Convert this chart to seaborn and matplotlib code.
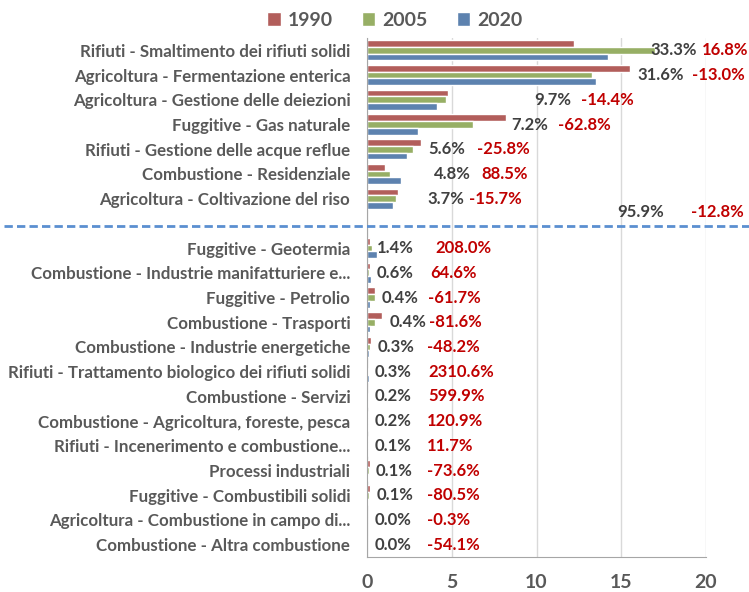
import numpy as np
import pandas as pd
import matplotlib
matplotlib.use("Agg")
import matplotlib.pyplot as plt
import matplotlib.transforms as mtransforms
from matplotlib.lines import Line2D
import seaborn as sns

# categories, top to bottom ("" is the spacer row holding the total)
categories = [
    "Rifiuti - Smaltimento dei rifiuti solidi",
    "Agricoltura - Fermentazione enterica",
    "Agricoltura - Gestione delle deiezioni",
    "Fuggitive - Gas naturale",
    "Rifiuti - Gestione delle acque reflue",
    "Combustione - Residenziale",
    "Agricoltura - Coltivazione del riso",
    "",
    "Fuggitive - Geotermia",
    "Combustione - Industrie manifatturiere e...",
    "Fuggitive - Petrolio",
    "Combustione - Trasporti",
    "Combustione - Industrie energetiche",
    "Rifiuti - Trattamento biologico dei rifiuti solidi",
    "Combustione - Servizi",
    "Combustione - Agricoltura, foreste, pesca",
    "Rifiuti - Incenerimento e combustione...",
    "Processi industriali",
    "Fuggitive - Combustibili solidi",
    "Agricoltura - Combustione in campo di...",
    "Combustione - Altra combustione",
]
v1990 = [12.2, 15.5, 4.8, 8.2, 3.17, 1.07, 1.81, 0,
         0.2, 0.16, 0.45, 0.9, 0.25, 0.005, 0.012, 0.04, 0.036, 0.15, 0.2, 0.01, 0.02]
v2005 = [17.0, 13.26, 4.67, 6.26, 2.7, 1.36, 1.69, 0,
         0.3, 0.1, 0.45, 0.5, 0.15, 0.06, 0.05, 0.06, 0.04, 0.1, 0.1, 0.01, 0.01]
v2020 = [14.2, 13.5, 4.11, 3.03, 2.35, 2.02, 1.53, 0,
         0.6, 0.26, 0.17, 0.17, 0.13, 0.13, 0.085, 0.085, 0.04, 0.04, 0.04, 0.01, 0.01]
share_2020 = [33.3, 31.6, 9.7, 7.2, 5.6, 4.8, 3.7, None,
              1.4, 0.6, 0.4, 0.4, 0.3, 0.3, 0.2, 0.2, 0.1, 0.1, 0.1, 0.0, 0.0]
change_90_20 = [16.8, -13.0, -14.4, -62.8, -25.8, 88.5, -15.7, None,
                208.0, 64.6, -61.7, -81.6, -48.2, 2310.6, 599.9, 120.9, 11.7, -73.6, -80.5, -0.3, -54.1]
total_share = 95.9
total_change = -12.8
years = ["1990", "2005", "2020"]

# layout: where the data labels sit (x in axis units, like Excel placed them)
share_x = [16.7, 15.97, 9.85, 8.5, 3.6, 3.95, 3.58, None,
           0.6, 0.57, 0.88, 1.32, 0.6, 0.42, 0.42, 0.45, 0.45, 0.5, 0.55, 0.42, 0.42]
change_x = [19.75, 19.17, 12.63, 11.25, 6.49, 6.77, 6.02, None,
            4.06, 3.74, 3.6, 3.65, 3.52, 3.6, 3.6, 3.52, 3.52, 3.52, 3.52, 3.52, 3.52]

RED, GREEN, BLUE = "#C0504D", "#9BBB59", "#4F81BD"
GREY = "#595959"
LABEL_SIZE = 12

# seaborn needs unique category names, so give the spacer a space
cat_keys = [c if c else " " for c in categories]
df = pd.DataFrame({
    "category": cat_keys * 3,
    "year": [y for y in years for _ in cat_keys],
    "value": v1990 + v2005 + v2020,
})

sns.set_style("white")
plt.rcParams["font.family"] = ["Lato", "DejaVu Sans"]

fig = plt.figure(figsize=(7.49, 5.92), dpi=100)
ax = fig.add_axes([0.49, 0.0591, 0.4526, 0.8767])

sns.barplot(data=df, x="value", y="category", hue="year", order=cat_keys,
            hue_order=years, palette=[RED, GREEN, BLUE], orient="h",
            width=0.82, ax=ax, legend=True)

ax.set_xlim(0, 20)
ax.set_ylim(len(categories) - 0.5, -0.5)
ax.set_xticks([0, 5, 10, 15, 20])
ax.xaxis.grid(True, color="#D9D9D9", linewidth=1)
ax.set_axisbelow(True)
ax.set_xlabel("")
ax.set_ylabel("")
for s in ["top", "right"]:
    ax.spines[s].set_visible(False)
for s in ["left", "bottom"]:
    ax.spines[s].set_color("#A6A6A6")
ax.tick_params(axis="y", length=0, pad=12)
ax.tick_params(axis="x", length=0, pad=12)
ax.set_yticks(range(len(categories)))
ax.set_yticklabels(categories, fontsize=12.2, fontweight="bold", color=GREY)
for t in ax.get_xticklabels():
    t.set_fontsize(14)
    t.set_fontweight("bold")
    t.set_color(GREY)

# data labels
for i, (s, c) in enumerate(zip(share_2020, change_90_20)):
    if s is None:
        continue
    ax.text(share_x[i], i, f"{s:.1f}%", va="center", ha="left",
            fontsize=LABEL_SIZE, fontweight="bold", color="#404040")
    ax.text(change_x[i], i, f"{c:.1f}%", va="center", ha="left",
            fontsize=LABEL_SIZE, fontweight="bold", color="#C00000")

gap = categories.index("")
ax.text(14.75, gap - 0.45, f"{total_share:.1f}%", va="center", ha="left",
        fontsize=LABEL_SIZE, fontweight="bold", color="#404040")
ax.text(19.1, gap - 0.45, f"{total_change:.1f}%", va="center", ha="left",
        fontsize=LABEL_SIZE, fontweight="bold", color="#C00000")

# dashed separator across the whole figure
tr = mtransforms.blended_transform_factory(fig.transFigure, ax.transData)
fig.add_artist(Line2D([0.005, 1.0], [gap + 0.1, gap + 0.1], transform=tr,
                      color="#5B8FD0", linestyle=(0, (3, 1.5)), linewidth=2))

handles, labels = ax.get_legend_handles_labels()
ax.legend_.remove()
leg = fig.legend(handles, labels, loc="center", bbox_to_anchor=(0.527, 0.966),
                 ncol=3, frameon=False, handlelength=0.7, handleheight=0.7,
                 columnspacing=1.5, handletextpad=0.35,
                 prop={"size": 14, "weight": "bold"})
for t in leg.get_texts():
    t.set_color(GREY)

fig.savefig("out.png", dpi=100)
